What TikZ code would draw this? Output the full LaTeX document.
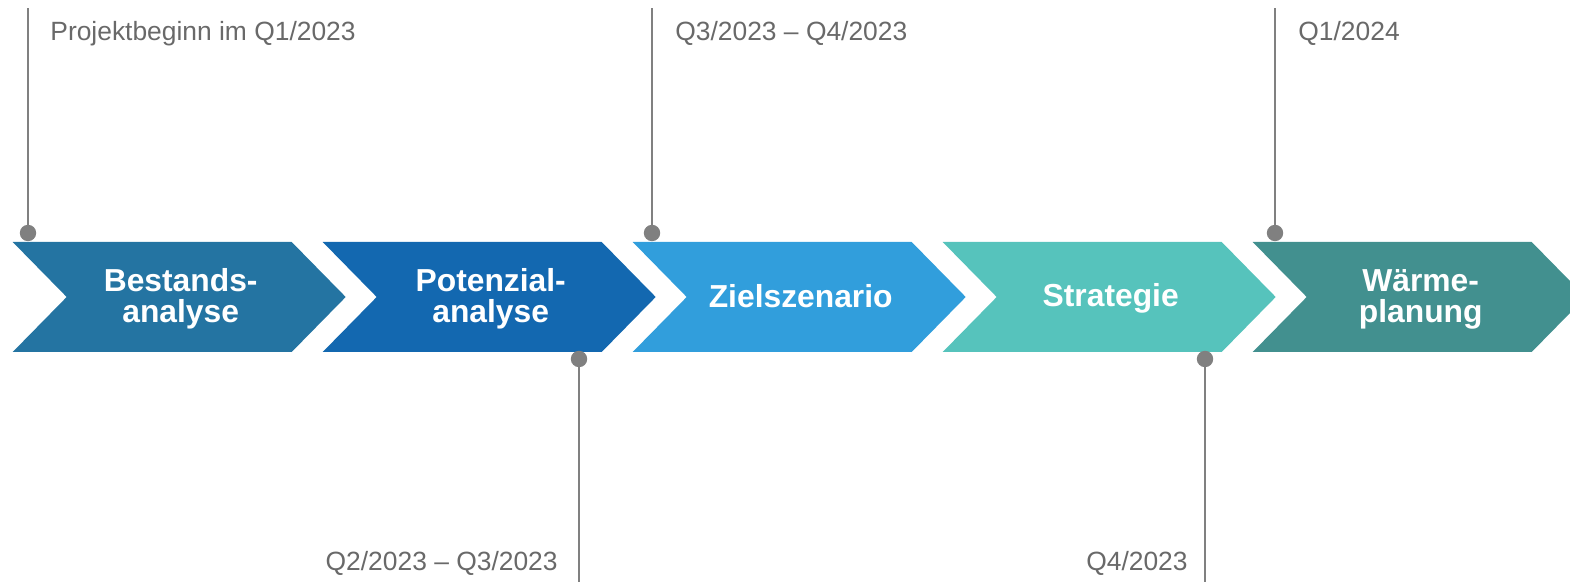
\documentclass[tikz,border=0pt]{standalone}
\usepackage{fontspec}
\setmainfont{Liberation Sans}
\definecolor{cA}{RGB}{36,116,162}
\definecolor{cB}{RGB}{19,104,176}
\definecolor{cC}{RGB}{49,158,220}
\definecolor{cD}{RGB}{86,195,188}
\definecolor{cE}{RGB}{66,144,143}
\definecolor{mark}{RGB}{128,128,128}
\definecolor{datetext}{RGB}{105,105,105}
\begin{document}
\begin{tikzpicture}[x=0.5pt,y=-0.5pt,
  steptext/.style={text=white,font=\fontsize{15.9}{15.5}\selectfont\bfseries,align=center,inner sep=0pt,anchor=base},
  datelabel/.style={text=datetext,font=\fontsize{13.2}{15}\selectfont,inner sep=0pt},
  markdot/.style={circle,fill=mark,minimum size=8.2pt,inner sep=0pt},
  markline/.style={draw=mark,line width=1.35pt}]
\useasboundingbox (0,0) rectangle (1570,582);
\clip (0,0) rectangle (1570,582);
% chevrons
\foreach \n/\x/\col/\yb/\txt in {a/12.7/cA/322.5/{Bestands-\\analyse},b/322.7/cB/322.5/{Potenzial-\\analyse},c/632.7/cC/307.5/{Zielszenario},d/942.7/cD/307/{Strategie},e/1252.7/cE/322.5/{Wärme-\\planung}}{
  \fill[\col] (\x,242) -- ++(279,0) -- ++(54,55) -- ++(-54,55) -- ++(-279,0) -- ++(54,-55) -- cycle;
  \node[steptext] (\n) at (\x+168,\yb) {\txt};
}
% markers above
\node[markdot] (m1) at (28,233) {};
\coordinate (t1) at (28,8);
\draw[markline] (m1.center) -- (t1);
\node[datelabel,anchor=base west] (l1) at (50,40.5) {Projektbeginn im Q1/2023};
\node[markdot] (m3) at (652,233) {};
\coordinate (t3) at (652,8);
\draw[markline] (m3.center) -- (t3);
\node[datelabel,anchor=base west] (l3) at (675,40.5) {Q3/2023 – Q4/2023};
\node[markdot] (m5) at (1275,233) {};
\coordinate (t5) at (1275,8);
\draw[markline] (m5.center) -- (t5);
\node[datelabel,anchor=base west] (l5) at (1298,40.5) {Q1/2024};
% markers below
\node[markdot] (m2) at (579,359) {};
\coordinate (t2) at (579,590);
\draw[markline] (m2.center) -- (t2);
\node[datelabel,anchor=base east] (l2) at (558,570.5) {Q2/2023 – Q3/2023};
\node[markdot] (m4) at (1205,359) {};
\coordinate (t4) at (1205,590);
\draw[markline] (m4.center) -- (t4);
\node[datelabel,anchor=base east] (l4) at (1188,570.5) {Q4/2023};
\end{tikzpicture}
\end{document}
